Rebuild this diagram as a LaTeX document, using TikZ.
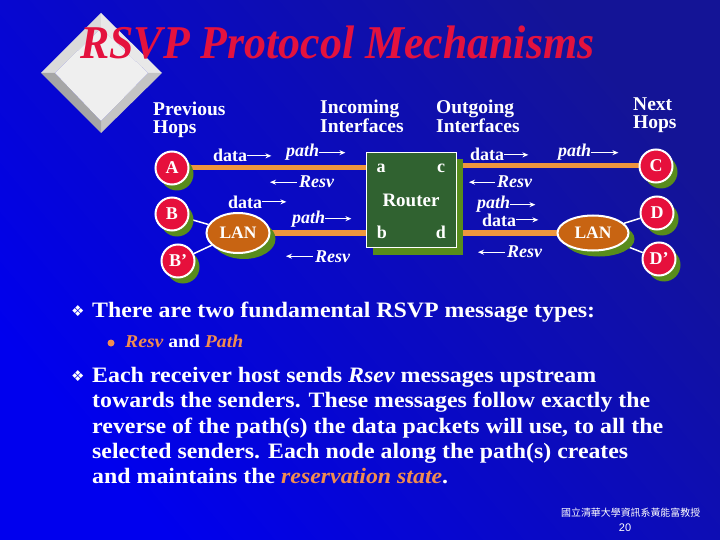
\documentclass[tikz,border=0pt]{standalone}
\usepackage{graphicx}
\usepackage{fontspec}
\setmainfont{Liberation Serif}
\newfontfamily\cjkfont{Noto Sans CJK TC}
\newfontfamily\symfont{DejaVu Sans}
\newfontfamily\arialfont{Liberation Sans}
\usetikzlibrary{arrows.meta,shadows,shapes.geometric}
\definecolor{bgtop}{RGB}{20,20,150}
\definecolor{bgmid}{RGB}{4,4,218}
\definecolor{bgbot}{RGB}{0,0,238}
\definecolor{titlered}{RGB}{228,18,62}
\definecolor{hostred}{RGB}{230,16,60}
\definecolor{lanbrown}{RGB}{200,100,18}
\definecolor{rtgreen}{RGB}{48,98,48}
\definecolor{shgreen}{RGB}{88,140,28}
\definecolor{orline}{RGB}{238,150,62}
\definecolor{txtorange}{RGB}{240,140,80}
\definecolor{dmA}{RGB}{239,239,239}
\definecolor{dmTL}{RGB}{218,218,218}
\definecolor{dmTR}{RGB}{232,232,232}
\definecolor{dmBR}{RGB}{196,196,196}
\definecolor{dmBL}{RGB}{166,166,166}
\pgfdeclarelayer{bg}
\pgfdeclarelayer{lines}
\pgfsetlayers{bg,lines,main}
\begin{document}
\begin{tikzpicture}[x=1pt,y=-1pt,
  host/.style={circle, fill=hostred, draw=white, line width=2pt, minimum size=33pt, inner sep=0pt,
    text=white, font=\bfseries\fontsize{18}{18}\selectfont,
    drop shadow={shadow xshift=5pt, shadow yshift=-6pt, fill=shgreen, opacity=1}},
  lan/.style={ellipse, fill=lanbrown, draw=white, line width=2pt, inner sep=0pt,
    text=white, font=\bfseries\fontsize{17.5}{17.5}\selectfont,
    drop shadow={shadow xshift=6pt, shadow yshift=-6pt, fill=shgreen, opacity=1}},
  routerbox/.style={rectangle, fill=rtgreen, draw=white, line width=1.5pt, inner sep=0pt,
    minimum width=90pt, minimum height=95pt,
    drop shadow={shadow xshift=6pt, shadow yshift=-7pt, fill=shgreen, opacity=1}},
  rl/.style={text=white, inner sep=0pt, font=\bfseries\fontsize{18}{18}\selectfont},
  lbl/.style={text=white, inner sep=0pt, anchor=base west, font=\bfseries\fontsize{18}{18}\selectfont},
  ilbl/.style={lbl, font=\bfseries\itshape\fontsize{18}{18}\selectfont},
  arr/.style={draw=white, line width=1.3pt, -{Stealth[length=6pt,width=5pt]}},
  orangeline/.style={draw=orline, line width=5pt},
  wline/.style={draw=white, line width=1.5pt},
  head/.style={text=white, inner sep=0pt, anchor=base west, font=\bfseries\fontsize{19.5}{19.5}\selectfont},
  body/.style={text=white, inner sep=0pt, anchor=base west, font=\bfseries\fontsize{22}{22}\selectfont},
  bul/.style={text=white, inner sep=0pt, anchor=base west, font=\symfont\fontsize{15}{15}\selectfont}
]
\useasboundingbox (0,0) rectangle (720,540);
\begin{pgfonlayer}{bg}
  \shade[top color=bgtop, middle color=bgmid, bottom color=bgbot, shading angle=-50] (0,0) rectangle (720,540);
\end{pgfonlayer}

% diamond ornament
\fill[dmTL] (101,13) -- (41,73) -- (55,73) -- (101,28) -- cycle;
\fill[dmTR] (101,13) -- (162,73) -- (148,73) -- (101,28) -- cycle;
\fill[dmBR] (162,73) -- (101,133) -- (101,121) -- (148,73) -- cycle;
\fill[dmBL] (41,73) -- (101,133) -- (101,121) -- (55,73) -- cycle;
\fill[dmA] (101,28) -- (148,73) -- (101,121) -- (55,73) -- cycle;

% title
\node[anchor=base west, inner sep=0pt, text=titlered, font=\bfseries\itshape\fontsize{47}{47}\selectfont]
  (title) at (80,59) {\resizebox{514pt}{\height}{RSVP Protocol Mechanisms}};

% headings
\node[head] (h1) at (153,116) {Previous};
\node[head] (h2) at (153,134) {Hops};
\node[head] (h3) at (320,114) {Incoming};
\node[head] (h4) at (320,133) {Interfaces};
\node[head] (h5) at (436,114) {Outgoing};
\node[head] (h6) at (436,133) {Interfaces};
\node[head] (h7) at (633,111) {Next};
\node[head] (h8) at (633,129) {Hops};

% router
\node[routerbox] (router) at (411.5,200) {};
\node[rl] (ra) at (381,168) {a};
\node[rl] (rc) at (441,168) {c};
\node[rl, font=\bfseries\fontsize{19}{19}\selectfont] (rname) at (411,200) {Router};
\node[rl] (rb) at (382,232) {b};
\node[rl] (rd) at (441,232) {d};

% hosts
\node[host] (A) at (172,168) {A};
\node[host] (B) at (172,214) {B};
\node[host] (Bp) at (178,261) {B’};
\node[lan, minimum width=63pt, minimum height=40pt] (LANL) at (238,233) {LAN};
\node[host] (C) at (656,166) {C};
\node[host] (D) at (657,213) {D};
\node[host] (Dp) at (659,259) {D’};
\node[lan, minimum width=71pt, minimum height=35pt] (LANR) at (593,233) {LAN};

\begin{pgfonlayer}{lines}
  \draw[orangeline] (A) -- (A -| router.west);
  \draw[orangeline] (LANL) -- (LANL -| router.west);
  \draw[orangeline] (router.east |- C) -- (C);
  \draw[orangeline] (router.east |- LANR) -- (LANR);
  \draw[wline] (B) -- (LANL);
  \draw[wline] (Bp) -- (LANL);
  \draw[wline] (LANR) -- (D);
  \draw[wline] (LANR) -- (Dp);
\end{pgfonlayer}

% message labels, left side
\node[lbl] (l1) at (213,162) {data};
\draw[arr] (l1.east) -- ++(24,0);
\node[ilbl] (l2) at (286,157) {path};
\draw[arr] (l2.east) -- ++(26,0);
\node[ilbl] (l3) at (299,188) {Resv};
\draw[arr] ([xshift=-2pt]l3.west) -- ++(-27,0);
\node[lbl] (l4) at (228,208) {data};
\draw[arr] (l4.east) -- ++(24,0);
\node[ilbl] (l5) at (292,223) {path};
\draw[arr] (l5.east) -- ++(26,0);
\node[ilbl] (l6) at (315,262) {Resv};
\draw[arr] ([xshift=-2pt]l6.west) -- ++(-27,0);

% message labels, right side
\node[lbl] (r1) at (470,161) {data};
\draw[arr] (r1.east) -- ++(24,0);
\node[ilbl] (r2) at (558,157) {path};
\draw[arr] (r2.east) -- ++(27,0);
\node[ilbl] (r3) at (497,188) {Resv};
\draw[arr] ([xshift=-2pt]r3.west) -- ++(-26,0);
\node[ilbl] (r4) at (477,209) {path};
\draw[arr] (r4.east) -- ++(25,0);
\node[lbl] (r5) at (482,226) {data};
\draw[arr] (r5.east) -- ++(22,0);
\node[ilbl] (r6) at (507,258) {Resv};
\draw[arr] ([xshift=-2pt]r6.west) -- ++(-27,0);

% body text
\node[bul] (b1) at (71,316) {❖};
\node[body] (t1) at (92,317) {\resizebox{503pt}{\height}{There are two fundamental RSVP message types:}};
\node[circle, fill=txtorange, inner sep=0pt, minimum size=7pt] (dot) at (111,343) {};
\node[body, font=\bfseries\fontsize{18}{18}\selectfont] (t2) at (125,347)
  {\resizebox{118pt}{\height}{{\color{txtorange}\itshape Resv} and {\color{txtorange}\itshape Path}}};
\node[bul] (b2) at (71,381) {❖};
\node[body] (t3) at (92,382) {\resizebox{504pt}{\height}{Each receiver host sends {\itshape Rsev} messages upstream}};
\node[body] (t4) at (92,407) {\resizebox{558pt}{\height}{towards the senders. These messages follow exactly the}};
\node[body] (t5) at (92,433) {\resizebox{571pt}{\height}{reverse of the path(s) the data packets will use, to all the}};
\node[body] (t6) at (92,458) {\resizebox{536pt}{\height}{selected senders. Each node along the path(s) creates}};
\node[body] (t7) at (92,483) {\resizebox{356pt}{\height}{and maintains the {\color{txtorange}\itshape reservation state}.}};

% footer
\node[anchor=base west, inner sep=0pt, text=white, font=\cjkfont\fontsize{10}{10}\selectfont]
  (ft) at (561,516) {\resizebox{139pt}{\height}{國立清華大學資訊系黃能富教授}};
\node[inner sep=0pt, text=white, font=\arialfont\fontsize{11}{11}\selectfont] (pg) at (625,528) {20};
\end{tikzpicture}
\end{document}
